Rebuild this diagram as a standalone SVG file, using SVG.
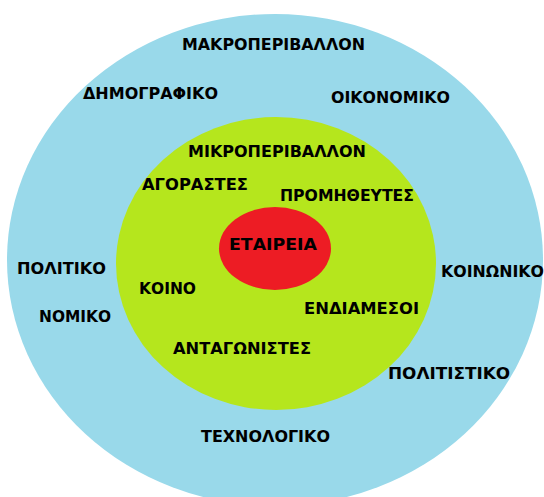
<svg xmlns="http://www.w3.org/2000/svg" width="544" height="497" viewBox="0 0 544 497">
<style>
.t{font-family:"DejaVu Sans","Verdana",sans-serif;font-weight:bold;font-size:16px;fill:#000;}
</style>
<rect width="544" height="497" fill="#ffffff"/>
<g id="macro">
<ellipse cx="275" cy="260" rx="268" ry="246" fill="#99D9EA"/>
<text class="t" x="182" y="50" textLength="183" lengthAdjust="spacingAndGlyphs">ΜΑΚΡΟΠΕΡΙΒΑΛΛΟΝ</text>
<text class="t" x="83" y="99" textLength="135" lengthAdjust="spacingAndGlyphs">ΔΗΜΟΓΡΑΦΙΚΟ</text>
<text class="t" x="331" y="103" textLength="119" lengthAdjust="spacingAndGlyphs">ΟΙΚΟΝΟΜΙΚΟ</text>
<text class="t" x="17" y="274" textLength="89" lengthAdjust="spacingAndGlyphs">ΠΟΛΙΤΙΚΟ</text>
<text class="t" x="441" y="277" textLength="103" lengthAdjust="spacingAndGlyphs">ΚΟΙΝΩΝΙΚΟ</text>
<text class="t" x="39" y="322" textLength="72" lengthAdjust="spacingAndGlyphs">ΝΟΜΙΚΟ</text>
<text class="t" x="388" y="379" textLength="122" lengthAdjust="spacingAndGlyphs">ΠΟΛΙΤΙΣΤΙΚΟ</text>
<text class="t" x="201" y="442" textLength="129" lengthAdjust="spacingAndGlyphs">ΤΕΧΝΟΛΟΓΙΚΟ</text>
</g>
<g id="micro">
<ellipse cx="276" cy="263.5" rx="160" ry="146.5" fill="#B5E61D"/>
<text class="t" x="188" y="157" textLength="178" lengthAdjust="spacingAndGlyphs">ΜΙΚΡΟΠΕΡΙΒΑΛΛΟΝ</text>
<text class="t" x="142" y="190" textLength="106" lengthAdjust="spacingAndGlyphs">ΑΓΟΡΑΣΤΕΣ</text>
<text class="t" x="280" y="201" textLength="134" lengthAdjust="spacingAndGlyphs">ΠΡΟΜΗΘΕΥΤΕΣ</text>
<text class="t" x="139" y="294" textLength="57" lengthAdjust="spacingAndGlyphs">ΚΟΙΝΟ</text>
<text class="t" x="304" y="314" textLength="115" lengthAdjust="spacingAndGlyphs">ΕΝΔΙΑΜΕΣΟΙ</text>
<text class="t" x="173" y="354" textLength="138" lengthAdjust="spacingAndGlyphs">ΑΝΤΑΓΩΝΙΣΤΕΣ</text>
</g>
<g id="company">
<ellipse cx="275" cy="248.5" rx="56" ry="41.5" fill="#ED1C24"/>
<text class="t" x="229" y="250" textLength="88" lengthAdjust="spacingAndGlyphs">ΕΤΑΙΡΕΙΑ</text>
</g>
<g id="connectors"></g>
</svg>
